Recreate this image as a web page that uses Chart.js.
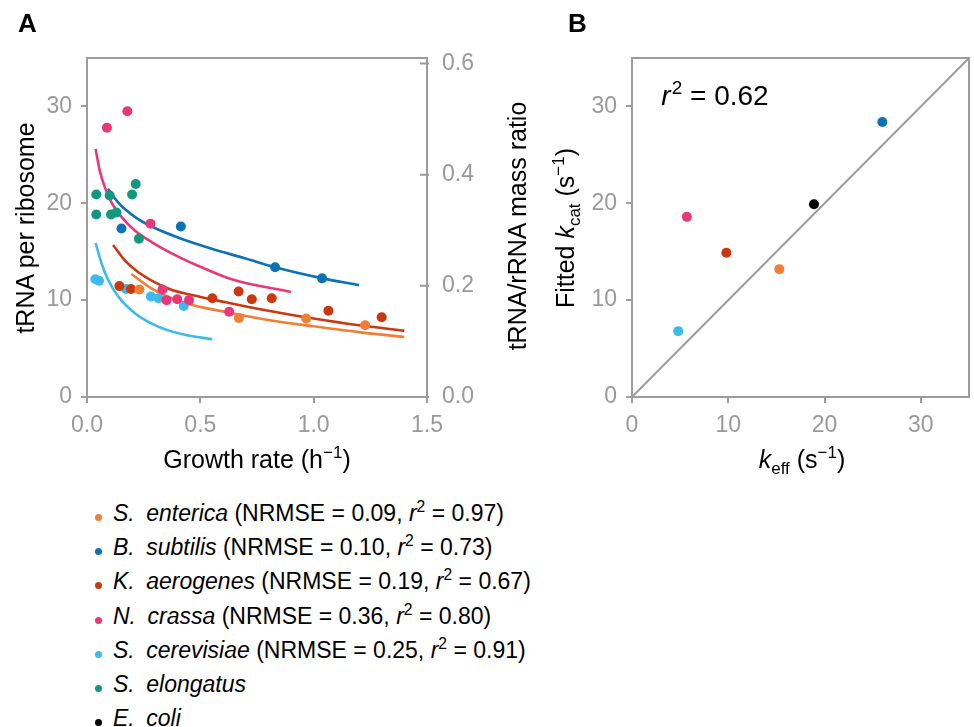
<!DOCTYPE html>
<html>
<head>
<meta charset="utf-8">
<script src="https://cdn.jsdelivr.net/npm/chart.js@4.4.0/dist/chart.umd.min.js"></script>
<style>
  body { margin: 0; background: #fff; font-family: "Liberation Sans", Arial, Helvetica, sans-serif; }
  #page { position: relative; width: 974px; height: 727px; overflow: hidden; background: #fff; }
  canvas { position: absolute; top: 0; }
  #chartA { left: 0; }
  #chartB { left: 540px; }
  .panel-label { position: absolute; font-weight: bold; font-size: 26px; line-height: 1; }
  .title { position: absolute; font-size: 25px; color: #000; white-space: nowrap; line-height: 1; transform: translate(-50%, -50%); }
  .title.rot { transform: translate(-50%, -50%) rotate(-90deg); }
  sup, sub { font-size: 0.68em; line-height: 0; }
  #legend { position: absolute; left: 95px; top: 496px; font-size: 23px; line-height: 34.2px; color: #000; }
  #legend .row { white-space: nowrap; }
  #legend .dot { display: inline-block; width: 7px; height: 7px; border-radius: 50%; margin-right: 11px; vertical-align: baseline; }
</style>
</head>
<body>
<div id="page">
  <canvas id="chartA" width="540" height="480"></canvas>
  <canvas id="chartB" width="434" height="480"></canvas>
  <div class="panel-label" style="left:18px; top:10px;">A</div>
  <div class="panel-label" style="left:568px; top:10px;">B</div>
  <div class="title rot" style="left:25px; top:228px;">tRNA per ribosome</div>
  <div class="title rot" style="left:517px; top:226px;">tRNA/rRNA mass ratio</div>
  <div class="title" style="left:257px; top:459px;">Growth rate (h<sup>&minus;1</sup>)</div>
  <div class="title rot" style="left:565px; top:228px;">Fitted <i>k</i><sub>cat</sub> (s<sup>&minus;1</sup>)</div>
  <div class="title" style="left:802px; top:459px;"><i>k</i><sub>eff</sub> (s<sup>&minus;1</sup>)</div>
  <div id="legend"></div>
</div>
<script>
// species (same order in legend)
const species = ["S.\u2002enterica", "B.\u2002subtilis", "K.\u2002aerogenes", "N.\u2002crassa",
                 "S.\u2002cerevisiae", "S.\u2002elongatus", "E.\u2002coli"];
const nrmse = ["0.09", "0.10", "0.19", "0.36", "0.25", null, null];
const rSquared = ["0.97", "0.73", "0.67", "0.80", "0.91", null, null];
const colors = ["#F07E33", "#0C71B7", "#C9380F", "#E9387A", "#3ABBEB", "#13977E", "#000000"];

// panel A: measured tRNA per ribosome vs growth rate (h^-1)
const entericaRate = [0.231, 0.67, 0.967, 1.227];
const entericaTrna = [11.1, 8.15, 8.1, 7.4];
const subtilisRate = [0.152, 0.414, 0.83, 1.037];
const subtilisTrna = [17.4, 17.6, 13.4, 12.25];
const aerogenesRate = [0.143, 0.194, 0.553, 0.669, 0.727, 0.815, 1.065, 1.3];
const aerogenesTrna = [11.45, 11.15, 10.2, 10.9, 10.1, 10.2, 8.9, 8.24];
const crassaRate = [0.088, 0.178, 0.28, 0.333, 0.351, 0.398, 0.45, 0.627];
const crassaTrna = [27.8, 29.5, 17.9, 11.1, 10.0, 10.1, 10.0, 8.8];
const cerevisiaeRate = [0.037, 0.053, 0.172, 0.282, 0.315, 0.427];
const cerevisiaeTrna = [12.15, 12.0, 11.15, 10.37, 10.2, 9.4];
const elongatusRate = [0.041, 0.041, 0.1, 0.106, 0.13, 0.199, 0.215, 0.229];
const elongatusTrna = [20.9, 18.85, 20.8, 18.85, 19.05, 20.9, 22.0, 16.35];

// panel A: model fits
const entericaFitRate = [0.196, 0.285, 0.432, 0.608, 0.8, 1.0, 1.2, 1.4];
const entericaFitTrna = [12.7, 11.2, 9.7, 8.8, 7.95, 7.3, 6.7, 6.2];
const subtilisFitRate = [0.093, 0.137, 0.211, 0.285, 0.432, 0.55, 0.7, 0.83, 1.03, 1.2];
const subtilisFitTrna = [21.5, 20.1, 18.6, 17.6, 16.2, 15.3, 14.3, 13.4, 12.3, 11.55];
const aerogenesFitRate = [0.115, 0.167, 0.225, 0.358, 0.506, 0.608, 0.8, 1.0, 1.2, 1.4];
const aerogenesFitTrna = [15.7, 14.1, 12.9, 11.2, 10.3, 9.8, 8.9, 8.1, 7.4, 6.85];
const crassaFitRate = [0.038, 0.056, 0.078, 0.108, 0.152, 0.211, 0.285, 0.402, 0.5, 0.645, 0.9];
const crassaFitTrna = [25.6, 23.4, 21.7, 20.1, 18.6, 17.2, 16.0, 14.5, 13.45, 12.1, 10.85];
const cerevisiaeFitRate = [0.038, 0.064, 0.093, 0.137, 0.211, 0.314, 0.432, 0.552];
const cerevisiaeFitTrna = [15.9, 13.8, 12.1, 10.4, 8.65, 7.27, 6.42, 5.97];

// panel B: k_eff vs fitted k_cat (s^-1), one per species
const bSpecies = [0, 1, 2, 3, 4, 6];
const kEff = [15.3, 26.0, 9.8, 5.7, 4.8, 18.9];
const kCatFitted = [13.2, 28.4, 14.9, 18.6, 6.8, 19.9];
const diagX = [0, 35];
const diagY = [0, 35];

const FONT = '"Liberation Sans", Arial, Helvetica, sans-serif';
const GREY = "#999999";
const AXIS = "#9c9c9c";

function pts(xs, ys) {
  return xs.map((x, i) => ({ x: x, y: ys[i] }));
}

// legend (html so the italics/superscripts stay real text)
const legend = document.getElementById("legend");
species.forEach((name, i) => {
  const row = document.createElement("div");
  row.className = "row";
  let html = `<span class="dot" style="background:${colors[i]}"></span><i>${name}</i>`;
  if (nrmse[i]) html += ` (NRMSE = ${nrmse[i]}, <i>r</i><sup>2</sup> = ${rSquared[i]})`;
  row.innerHTML = html;
  legend.appendChild(row);
});

// frame + inward right ticks + r^2 note
const framePlugin = {
  id: "frame",
  beforeDatasetsDraw(chart, args, opts) {
    const { ctx, chartArea: a } = chart;
    ctx.save();
    ctx.strokeStyle = AXIS;
    ctx.lineWidth = 2;
    ctx.beginPath();
    ctx.moveTo(a.left - 1, a.top);
    ctx.lineTo(a.right + 1, a.top);
    if (opts.right) {
      ctx.moveTo(a.right, a.top);
      ctx.lineTo(a.right, a.bottom);
    }
    if (opts.innerTicks) {
      const s = chart.scales[opts.innerTicks];
      s.ticks.forEach(t => {
        const y = s.getPixelForValue(t.value);
        ctx.moveTo(a.right - 7, y);
        ctx.lineTo(a.right + 2, y);
      });
    }
    ctx.stroke();
    ctx.restore();
  },
  afterDatasetsDraw(chart, args, opts) {
    if (!opts.note) return;
    const { ctx, scales } = chart;
    const x = scales.x.getPixelForValue(opts.note.x);
    const y = scales.y.getPixelForValue(opts.note.y);
    ctx.save();
    ctx.fillStyle = "#000";
    ctx.textBaseline = "alphabetic";
    ctx.font = `italic 28px ${FONT}`;
    ctx.fillText("r", x, y);
    let cx = x + ctx.measureText("r").width + 1;
    ctx.font = `19px ${FONT}`;
    ctx.fillText("2", cx, y - 11);
    cx += ctx.measureText("2").width;
    ctx.font = `28px ${FONT}`;
    ctx.fillText(" = 0.62", cx, y);
    ctx.restore();
  }
};

function axis(min, max, step, pos, fit, digits) {
  return {
    type: "linear",
    position: pos,
    min: min,
    max: max,
    ticks: {
      stepSize: step,
      includeBounds: false,
      color: GREY,
      font: { family: FONT, size: 23 },
      padding: pos === "bottom" ? 9 : 9,
      callback: v => v.toFixed(digits)
    },
    grid: { display: true, drawOnChartArea: false, drawTicks: true, tickLength: 6, color: AXIS, lineWidth: 2 },
    border: { display: true, color: AXIS, width: 2 },
    afterFit: s => {
      if (pos === "bottom") s.height = fit; else s.width = fit;
    }
  };
}

// panel A
const setsA = [];
const obs = [
  [entericaRate, entericaTrna], [subtilisRate, subtilisTrna], [aerogenesRate, aerogenesTrna],
  [crassaRate, crassaTrna], [cerevisiaeRate, cerevisiaeTrna], [elongatusRate, elongatusTrna]
];
const fits = [
  [entericaFitRate, entericaFitTrna], [subtilisFitRate, subtilisFitTrna], [aerogenesFitRate, aerogenesFitTrna],
  [crassaFitRate, crassaFitTrna], [cerevisiaeFitRate, cerevisiaeFitTrna]
];
obs.forEach((o, i) => {
  setsA.push({
    label: species[i],
    data: pts(o[0], o[1]),
    backgroundColor: colors[i],
    borderWidth: 0,
    pointRadius: 5,
    order: 0
  });
});
fits.forEach((f, i) => {
  setsA.push({
    label: species[i] + " fit",
    data: pts(f[0], f[1]),
    showLine: true,
    borderColor: colors[i],
    borderWidth: 2.6,
    pointRadius: 0,
    cubicInterpolationMode: "monotone",
    fill: false,
    order: 1
  });
});

const yRatio = axis(0, 0.61, 0.2, "right", 113, 1);
yRatio.grid.drawTicks = false;
yRatio.ticks.padding = 15;

new Chart(document.getElementById("chartA"), {
  type: "scatter",
  data: { datasets: setsA },
  options: {
    responsive: false,
    animation: false,
    layout: { padding: { top: 58, left: 0, right: 0, bottom: 0 } },
    plugins: {
      legend: { display: false },
      tooltip: { enabled: false },
      frame: { right: false, innerTicks: "y2" }
    },
    scales: {
      x: axis(0, 1.5, 0.5, "bottom", 83, 1),
      y: axis(0, 35, 10, "left", 87, 0),
      y2: yRatio
    }
  },
  plugins: [framePlugin]
});

// panel B
const setsB = [{
  label: "y = x",
  data: pts(diagX, diagY),
  showLine: true,
  borderColor: AXIS,
  borderWidth: 2,
  pointRadius: 0,
  order: 1
}];
bSpecies.forEach((s, i) => {
  setsB.push({
    label: species[s],
    data: [{ x: kEff[i], y: kCatFitted[i] }],
    backgroundColor: colors[s],
    borderWidth: 0,
    pointRadius: 5,
    order: 0
  });
});

new Chart(document.getElementById("chartB"), {
  type: "scatter",
  data: { datasets: setsB },
  options: {
    responsive: false,
    animation: false,
    layout: { padding: { top: 58, left: 0, right: 2, bottom: 0 } },
    plugins: {
      legend: { display: false },
      tooltip: { enabled: false },
      frame: { right: true, note: { x: 3.05, y: 30.1 } }
    },
    scales: {
      x: axis(0, 35, 10, "bottom", 83, 0),
      y: axis(0, 35, 10, "left", 92, 0)
    }
  },
  plugins: [framePlugin]
});
</script>
</body>
</html>
